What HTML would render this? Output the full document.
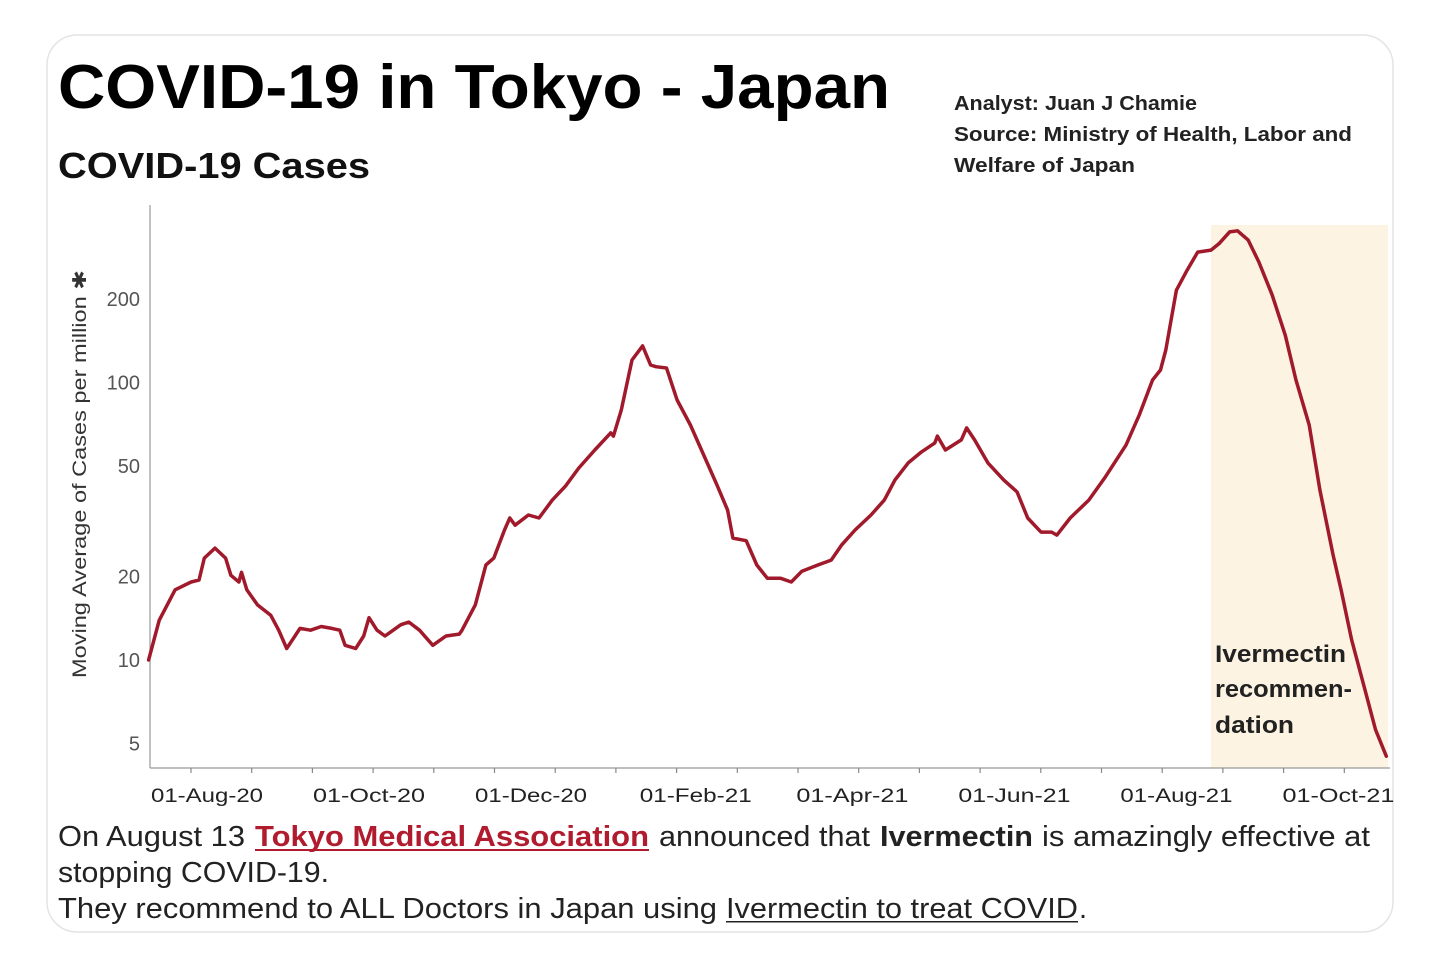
<!DOCTYPE html>
<html><head><meta charset="utf-8"><style>
html,body{margin:0;padding:0;background:#fff;}
svg{display:block;}
text{font-family:"Liberation Sans","DejaVu Sans",sans-serif;}
</style></head><body>
<svg id="chart" width="1440" height="965" viewBox="0 0 1440 965" xmlns="http://www.w3.org/2000/svg">
  <rect x="0" y="0" width="1440" height="965" fill="#fff"/>
  <rect x="47" y="35" width="1346" height="897" rx="30" ry="30" fill="#fff" stroke="#e4e4e4" stroke-width="1.5"/>
  <text x="58" y="108" font-size="62" font-weight="bold" fill="#000" textLength="832" lengthAdjust="spacingAndGlyphs">COVID-19 in Tokyo - Japan</text>
  <text x="58" y="178" font-size="36" font-weight="bold" fill="#111" textLength="312" lengthAdjust="spacingAndGlyphs">COVID-19 Cases</text>
  <text x="954" y="110" font-size="20" font-weight="bold" fill="#222" textLength="243" lengthAdjust="spacingAndGlyphs">Analyst: Juan J Chamie</text>
  <text x="954" y="141" font-size="20" font-weight="bold" fill="#222" textLength="398" lengthAdjust="spacingAndGlyphs">Source: Ministry of Health, Labor and</text>
  <text x="954" y="172" font-size="20" font-weight="bold" fill="#222" textLength="181" lengthAdjust="spacingAndGlyphs">Welfare of Japan</text>
  <rect id="shade" fill="#fdf3e2"/>
  <g id="axes"></g>
  <path id="line" fill="none" stroke="#a11a2b" stroke-width="3.5" stroke-linejoin="round" stroke-linecap="round"/>
  <text x="1215" y="662" font-size="24" font-weight="bold" fill="#222" textLength="131" lengthAdjust="spacingAndGlyphs">Ivermectin</text>
  <text x="1215" y="697" font-size="24" font-weight="bold" fill="#222" textLength="137" lengthAdjust="spacingAndGlyphs">recommen-</text>
  <text x="1215" y="733" font-size="24" font-weight="bold" fill="#222" textLength="79" lengthAdjust="spacingAndGlyphs">dation</text>
  <text transform="translate(86,474) rotate(-90)" text-anchor="middle" font-size="19" fill="#333" textLength="408" lengthAdjust="spacingAndGlyphs">Moving Average of Cases per million ✱</text>
  <g font-size="29" fill="#222">
    <text x="58" y="846" textLength="187" lengthAdjust="spacingAndGlyphs">On August 13</text>
    <text x="255" y="846" font-weight="bold" fill="#b01c2e" textLength="394" lengthAdjust="spacingAndGlyphs">Tokyo Medical Association</text>
    <rect x="255" y="849" width="394" height="2" fill="#b01c2e"/>
    <text x="659" y="846" textLength="211" lengthAdjust="spacingAndGlyphs">announced that</text>
    <text x="880" y="846" font-weight="bold" textLength="153" lengthAdjust="spacingAndGlyphs">Ivermectin</text>
    <text x="1042" y="846" textLength="328" lengthAdjust="spacingAndGlyphs">is amazingly effective at</text>
    <text x="58" y="882" textLength="271" lengthAdjust="spacingAndGlyphs">stopping COVID-19.</text>
    <text x="58" y="918" textLength="659" lengthAdjust="spacingAndGlyphs">They recommend to ALL Doctors in Japan using</text>
    <text x="726" y="918" textLength="352" lengthAdjust="spacingAndGlyphs">Ivermectin to treat COVID</text>
    <rect x="726" y="921" width="352" height="1.5" fill="#222"/>
    <text x="1079" y="918">.</text>
  </g>
</svg>
<script>
// day offsets from 01-Aug-2020 and moving-average cases per million
const days = [-22,-18,-12,-6,-3,-1,3,7,9,12,13,15,19,24,27,30,35,39,43,47,50,52,56,59,61,64,67,73,76,80,85,90,95,96,101,105,108,112,114,116,121,125,130,135,140,146,152,153,156,160,164,167,169,173,177,182,187,192,196,198,203,207,211,216,220,224,230,235,239,244,250,255,259,264,269,274,275,278,284,286,289,294,300,305,309,314,318,320,325,332,338,346,351,356,359,361,363,365,369,373,378,381,385,388,392,396,401,406,410,415,419,424,427,431,436,440,444];
const cases = [10.0,13.9,17.9,19.1,19.4,23.3,25.3,23.3,20.2,19.1,20.7,17.9,15.8,14.5,12.8,11.0,13.0,12.8,13.2,13.0,12.8,11.3,11.0,12.2,14.2,12.8,12.2,13.4,13.7,12.8,11.3,12.2,12.4,12.8,15.8,22.0,23.3,29.4,32.5,30.6,33.3,32.5,37.7,42.4,49.2,57.1,65.8,64.1,79.6,120.5,135.5,115.6,114,112.8,86.5,70.3,54.8,42.7,34.7,27.5,26.9,22.0,19.7,19.7,19.1,20.9,22.0,22.9,26.0,29.4,33.3,37.7,44.5,51.3,56.2,60.5,64.1,57.1,62.1,68.6,62.1,51.3,44.5,40.3,32.5,28.9,28.9,28.2,32.5,37.7,45.3,59.5,76.4,102,110.9,131,168,215,254,295,300,316,349,352,326,272,207,148,102,70.3,41.0,23.9,17.9,11.8,7.8,5.6,4.5];
const yTicks = [5,10,20,50,100,200];
const xTickDays = [0,61,122,184,243,304,365,426];
const xTickLabels = ["01-Aug-20","01-Oct-20","01-Dec-20","01-Feb-21","01-Apr-21","01-Jun-21","01-Aug-21","01-Oct-21"];
const shadeStartDay = 378;

const NS = "http://www.w3.org/2000/svg";
function xS(d){ return 207 + d*2.656; }
function yS(v){ return 660 - 277.5*Math.log10(v/10); }
const plotL=150, plotR=1390, plotT=205, plotB=768;
const axes = document.getElementById('axes');
function mk(tag, attrs){ const e=document.createElementNS(NS,tag); for(const k in attrs) e.setAttribute(k,attrs[k]); return e; }

const shade = document.getElementById('shade');
shade.setAttribute('x', xS(shadeStartDay));
shade.setAttribute('y', 225);
shade.setAttribute('width', 1388 - xS(shadeStartDay));
shade.setAttribute('height', plotB - 225);

const yAxis = mk('line',{x1:plotL,y1:plotT,x2:plotL,y2:plotB,stroke:'#999','stroke-width':1.2});


axes.appendChild(yAxis);
const xAxis = mk('line',{x1:plotL,y1:plotB,x2:plotR,y2:plotB,stroke:'#999','stroke-width':1.2});


axes.appendChild(xAxis);

yTicks.forEach(v=>{
  const t = mk('text',{x:140,y:yS(v)+7,'text-anchor':'end','font-size':20,fill:'#555'});
  t.textContent = v;
  
  
  axes.appendChild(t);
});
for(let x=191; x<plotR; x+=60.7){
  const tk = mk('line',{x1:x,y1:plotB,x2:x,y2:plotB+5,stroke:'#888','stroke-width':1.2});
  
  
  axes.appendChild(tk);
}
xTickDays.forEach((d,i)=>{
  const t = mk('text',{x:xS(d),y:802,'text-anchor':'middle','font-size':19,fill:'#222',textLength:112,lengthAdjust:'spacingAndGlyphs'});
  t.textContent = xTickLabels[i];
  
  
  axes.appendChild(t);
});

let dstr='';
days.forEach((d,i)=>{ dstr += (i?'L':'M') + xS(d).toFixed(1) + ' ' + yS(cases[i]).toFixed(1) + ' '; });
document.getElementById('line').setAttribute('d', dstr);
</script>
</body></html>
